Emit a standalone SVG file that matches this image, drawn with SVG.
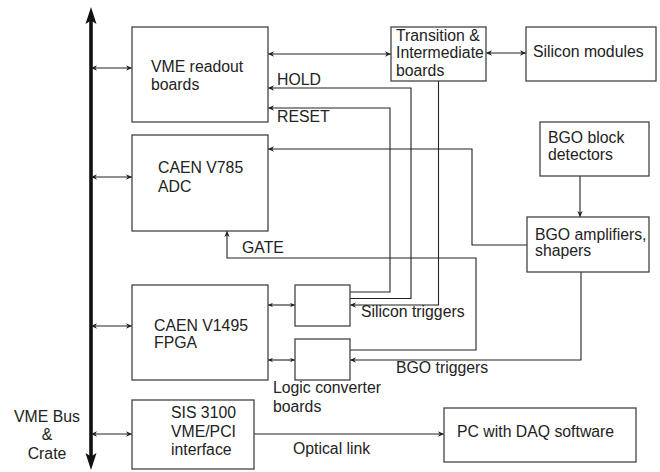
<svg xmlns="http://www.w3.org/2000/svg" width="660" height="472" viewBox="0 0 660 472">
<style>
.box{fill:#fff;stroke:#444;stroke-width:1.3}
.t{font-family:"Liberation Sans",Arial,sans-serif;font-size:15.8px;fill:#222}
.c{fill:none;stroke:#222;stroke-width:1.1}
.ce{marker-end:url(#ah)}
.cb{marker-end:url(#ah);marker-start:url(#ah)}
.cs{marker-end:url(#as);marker-start:url(#as)}
</style>
<defs>
<marker id="ah" viewBox="0 0 10 10" refX="10" refY="5" markerWidth="9" markerHeight="6" markerUnits="userSpaceOnUse" orient="auto-start-reverse">
<path d="M0,0.5 L10,5 L0,9.5 L3,5 z" fill="#222"/>
</marker>
<marker id="as" viewBox="0 0 10 10" refX="10" refY="5" markerWidth="7" markerHeight="5" markerUnits="userSpaceOnUse" orient="auto-start-reverse">
<path d="M0,0.5 L10,5 L0,9.5 L3,5 z" fill="#222"/>
</marker>
</defs>

<g id="bus">
<line x1="91" y1="20" x2="91" y2="458" stroke="#111" stroke-width="3.6"/>
<path d="M91,7 L96.5,24 L91,20.5 L85.5,24 z" fill="#111"/>
<path d="M91,470 L96.5,453 L91,456.5 L85.5,453 z" fill="#111"/>
<text class="t" x="47" y="422" text-anchor="middle">VME Bus</text>
<text class="t" x="47" y="440" text-anchor="middle">&amp;</text>
<text class="t" x="47" y="459" text-anchor="middle">Crate</text>
</g>

<g id="connectors">
<path class="c cb" d="M91,68 H132"/>
<path class="c cb" d="M91,177 H132"/>
<path class="c cb" d="M91,326 H132"/>
<path class="c cb" d="M91,434 H132"/>
<path class="c cb" d="M268,54 H391"/>
<path class="c cb" d="M486,53 H526"/>
<path class="c ce" d="M350,298.5 H411 V88 H268"/>
<path class="c ce" d="M350,292 H390 V108 H268"/>
<path class="c ce" d="M438.5,81 V305 H350"/>
<path class="c ce" d="M580,176 V217"/>
<path class="c ce" d="M527,245 H472 V149 H268"/>
<path class="c ce" d="M350,350 H476 V258 H227 V231"/>
<path class="c ce" d="M581,272 V360 H350"/>
<path class="c cs" d="M268,305 H295"/>
<path class="c cs" d="M268,360 H295"/>
<path class="c ce" d="M254,434 H444"/>
<text class="t" x="277" y="85">HOLD</text>
<text class="t" x="277" y="122">RESET</text>
<text class="t" x="242" y="253">GATE</text>
<text class="t" x="361" y="317">Silicon triggers</text>
<text class="t" x="396" y="373">BGO triggers</text>
<text class="t" x="293" y="454">Optical link</text>
</g>

<g id="vme-readout">
<rect class="box" x="132" y="27" width="136" height="95"/>
<text class="t" x="151" y="72">VME readout</text>
<text class="t" x="151" y="90">boards</text>
</g>

<g id="caen-v785">
<rect class="box" x="132" y="135" width="136" height="96"/>
<text class="t" x="158" y="173">CAEN V785</text>
<text class="t" x="158" y="192">ADC</text>
</g>

<g id="caen-v1495">
<rect class="box" x="132" y="285" width="136" height="95"/>
<text class="t" x="154" y="331">CAEN V1495</text>
<text class="t" x="154" y="348">FPGA</text>
</g>

<g id="sis3100">
<rect class="box" x="132" y="400" width="122" height="69"/>
<text class="t" x="171" y="418">SIS 3100</text>
<text class="t" x="171" y="437">VME/PCI</text>
<text class="t" x="171" y="455">interface</text>
</g>

<g id="logic-converter">
<rect class="box" x="295" y="285" width="55" height="41"/>
<rect class="box" x="295" y="339" width="55" height="41"/>
<text class="t" x="273" y="393">Logic converter</text>
<text class="t" x="273" y="412">boards</text>
</g>

<g id="transition">
<rect class="box" x="391" y="27" width="95" height="54"/>
<text class="t" x="396" y="41">Transition &amp;</text>
<text class="t" x="396" y="58">Intermediate</text>
<text class="t" x="396" y="76">boards</text>
</g>

<g id="silicon-modules">
<rect class="box" x="526" y="27" width="130" height="54"/>
<text class="t" x="533" y="57">Silicon modules</text>
</g>

<g id="bgo-block">
<rect class="box" x="540" y="122" width="109" height="54"/>
<text class="t" x="548" y="143">BGO block</text>
<text class="t" x="548" y="160">detectors</text>
</g>

<g id="bgo-amplifiers">
<rect class="box" x="527" y="217" width="122" height="55"/>
<text class="t" x="535" y="240">BGO amplifiers,</text>
<text class="t" x="535" y="256">shapers</text>
</g>

<g id="pc">
<rect class="box" x="444" y="408" width="192" height="54"/>
<text class="t" x="457" y="437">PC with DAQ software</text>
</g>
</svg>
